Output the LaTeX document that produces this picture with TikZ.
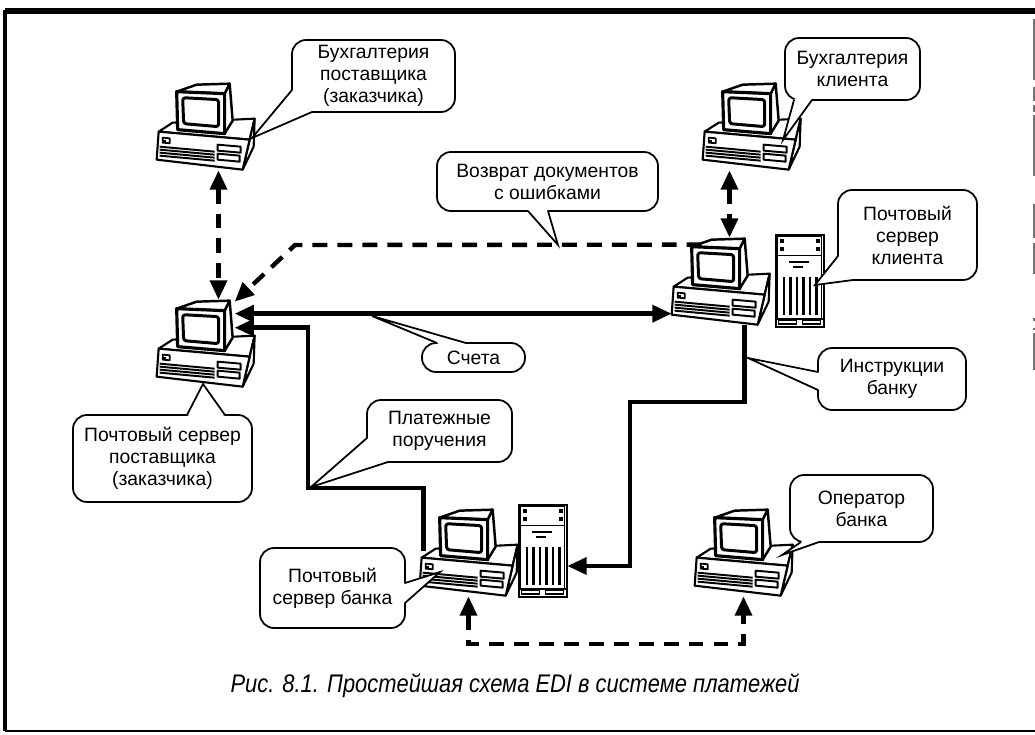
\documentclass[tikz,border=0pt]{standalone}
\usepackage{fontspec}
\setmainfont{Liberation Sans}
\usetikzlibrary{arrows.meta,calc}

\tikzset{
  x=0.02cm, y=-0.02cm,
  pcbox/.style={inner sep=0pt, minimum width=1.94cm, minimum height=1.74cm},
  towerbox/.style={inner sep=0pt, minimum width=0.96cm, minimum height=1.84cm},
  bubble/.style={draw, line width=1pt, rounded corners=0.28cm, fill=white,
    align=center, inner sep=0pt, font=\fontsize{11}{12.5}\selectfont},
  tailline/.style={line width=1pt, line join=miter},
  flow/.style={line width=2.5pt},
  dflow/.style={line width=2.5pt, dash pattern=on 8.5pt off 5.7pt},
  headboth/.style={{Triangle[length=11pt,width=9.5pt]}-{Triangle[length=11pt,width=9.5pt]}},
  headend/.style={-{Triangle[length=11pt,width=9.5pt]}},
  pics/pc/.style={code={
    \begin{scope}[line width=1.2pt, line join=round]
      % case: top, right side, front
      \filldraw[fill=white] (2,49) -- (16,40) -- (98,36) -- (93,57) -- cycle;
      \filldraw[fill=white] (93,57) -- (98,36) -- (97,64) -- (86,87) -- cycle;
      \filldraw[fill=white] (2,49) -- (93,57) -- (86,87) -- (0,77) -- cycle;
      % monitor: side, top, front, screen
      \filldraw[fill=white, line width=1.4pt] (68,11) -- (73,1) -- (76,38) -- (68,51) -- cycle;
      \filldraw[fill=white, line width=1.4pt] (20,9) -- (40,2) -- (73,1) -- (68,11) -- cycle;
      \filldraw[fill=white, line width=1.8pt] (20,9) -- (68,11) -- (68,51) -- (21,47) -- cycle;
      \draw[line width=1.7pt, rounded corners=1.5] (26,15) -- (62,17) -- (62,44) -- (27,41) -- cycle;
      % front panel: button, slots, drive bays
      \filldraw[fill=white, line width=1pt] (6,55) -- (13,55.6) -- (13,60.6) -- (6,60) -- cycle;
      \fill (6.5,57.5) rectangle (9.5,60);
      \foreach \k in {0,3,6,9} \draw[line width=1.1pt] (3,64+\k) -- (58,69+\k);
      \draw[line width=1.1pt] (61,62) -- (84,64) -- (84,70) -- (61,68) -- cycle;
      \draw[line width=1.1pt] (61,71) -- (83,73) -- (83,79) -- (61,77) -- cycle;
    \end{scope}
  }},
  pics/tower/.style={code={
    \begin{scope}[line width=1.1pt]
      \filldraw[fill=white] (0,0) rectangle (48,92);
      \draw[line width=0.7pt] (2,2) rectangle (46,21);
      \fill (4,4) rectangle (8,8);   \fill (40,4) rectangle (44,8);
      \fill (4,12) rectangle (8,16); \fill (40,12) rectangle (44,16);
      \fill (13,26) rectangle (33,28.5);
      \fill (17,31) rectangle (27,33);
      \draw[line width=0.6pt] (2,21) -- (2,84) (46,21) -- (46,84);
      \foreach \x in {7,13.5,20,26.5,33,39.5} \fill (\x,42) rectangle (\x+2.8,80);
      \draw (0,84) -- (48,84);
      \draw[line width=0.8pt] (3,86) rectangle (21,89.5) (27,86) rectangle (45,89.5);
    \end{scope}
  }},
}

% rounded label box given by its corners in the picture's units
\newcommand\bubblebox[6]{%
  \node[bubble, minimum width={(#4-#2)*0.02cm}, minimum height={(#5-#3)*0.02cm}]
    (#1) at ({(#2+#4)/2},{(#3+#5)/2}) {#6};}
% pointer of a label box: base points, tip, and a point inside the box
\newcommand\bubbletail[4]{%
  \fill[white] #1 -- #2 -- #3 -- #4 -- cycle;
  \draw[tailline] #1 -- #2 -- #3;}

\begin{document}
\begin{tikzpicture}
\useasboundingbox (0,0) rectangle (1035,734);
\fill[white] (0,0) rectangle (1035,734);

% frame
\draw[line width=3pt] (5,11) -- (1035,11);
\draw[line width=1.8pt] (5,10) -- (5,731);
\draw[line width=1.4pt] (5,731) -- (1035,731);
\foreach \a/\b in {19/80,87/101,105/112,115/176,204/238,243/274,318/321,328/330,333/370}
  \draw[black!55, line width=0.7pt] (1034,\a) -- (1034,\b);

% workstations and servers
\node[pcbox] (pc1) at (205.5,126.5) {}; \pic at (pc1.north west) {pc};
\node[pcbox] (pc2) at (751.5,126.5) {}; \pic at (pc2.north west) {pc};
\node[pcbox] (pc3) at (205.5,343.5) {}; \pic at (pc3.north west) {pc};
\node[pcbox] (pc4) at (720.5,281.5) {}; \pic at (pc4.north west) {pc};
\node[towerbox] (tw1) at (800,281) {};  \pic at (tw1.north west) {tower};
\node[pcbox] (pc5) at (468.5,552.5) {}; \pic at (pc5.north west) {pc};
\node[towerbox] (tw2) at (543,551) {};  \pic at (tw2.north west) {tower};
\node[pcbox] (pc6) at (743.5,552.5) {}; \pic at (pc6.north west) {pc};

% accounting <-> mail servers
\coordinate (a1) at ($(pc1.south)+(13,0)$);
\draw[dflow, headboth] (a1) -- (a1 |- pc3.north);
\coordinate (b1) at ($(pc2.south)+(-22,0)$);
\draw[dflow, headboth] (b1) -- (b1 |- pc4.north);

% return of rejected documents
\coordinate (c0) at ($(pc4.north west)+(30,7)$);
\coordinate (c1) at (295,245);
\coordinate (c2) at ($(pc3.north west)+(78,2)$);
\draw[dflow, headend] (c0) -- (c1) -- (c2);

% invoices
\coordinate (d0) at ($(pc3.north west)+(78,14)$);
\draw[flow, headboth] (d0) -- (d0 -| pc4.west);

% payment orders
\coordinate (e0) at ($(pc5.north west)+(4,42)$);
\coordinate (e1) at (308,488);
\coordinate (e2) at ($(pc3.north west)+(78,28)$);
\draw[flow, headend] (e0) |- (e1) |- (e2);

% instructions to the bank
\coordinate (f0) at ($(pc4.south west)+(73,0)$);
\coordinate (f1) at (630,402);
\draw[flow, headend] (f0) |- (f1) |- ($(tw2.east)+(0,15)$);

% bank operator
\coordinate (g) at (0,644);
\draw[dflow, headboth] (pc5.south) -- (pc5.south |- g) -- (pc6.south |- g) -- (pc6.south);

% labels
\bubblebox{lbuhp}{292}{40}{455}{112}{Бухгалтерия\\поставщика\\(заказчика)}
\bubbletail{(292,90)}{(252,138)}{(312,112)}{(306,98)}
\bubblebox{lbuhk}{785}{38}{920}{100}{Бухгалтерия\\клиента}
\bubbletail{(794,100)}{(783,140)}{(812,100)}{(803,92)}
\bubblebox{lret}{437}{152}{658}{211}{Возврат документов\\с ошибками}
\bubbletail{(528,211)}{(558,245)}{(548,211)}{(538,203)}
\bubblebox{lsrvk}{838}{190}{977}{280}{Почтовый\\сервер\\клиента}
\bubbletail{(838,256)}{(815,285)}{(853,280)}{(847,268)}
\bubblebox{linv}{422}{343}{525}{372}{Счета}
\bubbletail{(437,343)}{(372,316)}{(466,343)}{(452,350)}
\bubblebox{linstr}{818}{348}{966}{410}{Инструкции\\банку}
\bubbletail{(818,372)}{(748,358)}{(818,390)}{(826,381)}
\bubblebox{lpay}{367}{400}{512}{462}{Платежные\\поручения}
\bubbletail{(367,438)}{(311,487)}{(388,462)}{(378,450)}
\bubblebox{lsrvp}{73}{415}{252}{502}{Почтовый сервер\\поставщика\\(заказчика)}
\bubbletail{(187,415)}{(203,384)}{(225,415)}{(206,423)}
\bubblebox{lsrvb}{260}{548}{405}{628}{Почтовый\\сервер банка}
\bubbletail{(405,583)}{(440,572)}{(405,603)}{(397,593)}
\bubblebox{loper}{790}{475}{933}{542}{Оператор\\банка}
\bubbletail{(801,542)}{(782,555)}{(819,542)}{(810,534)}

% caption
\node[font=\itshape\fontsize{14.5}{16}\selectfont] (cap) at (515,686)
  {\scalebox{0.86}[1]{Рис. 8.1. Простейшая схема EDI в системе платежей}};
\end{tikzpicture}
\end{document}
